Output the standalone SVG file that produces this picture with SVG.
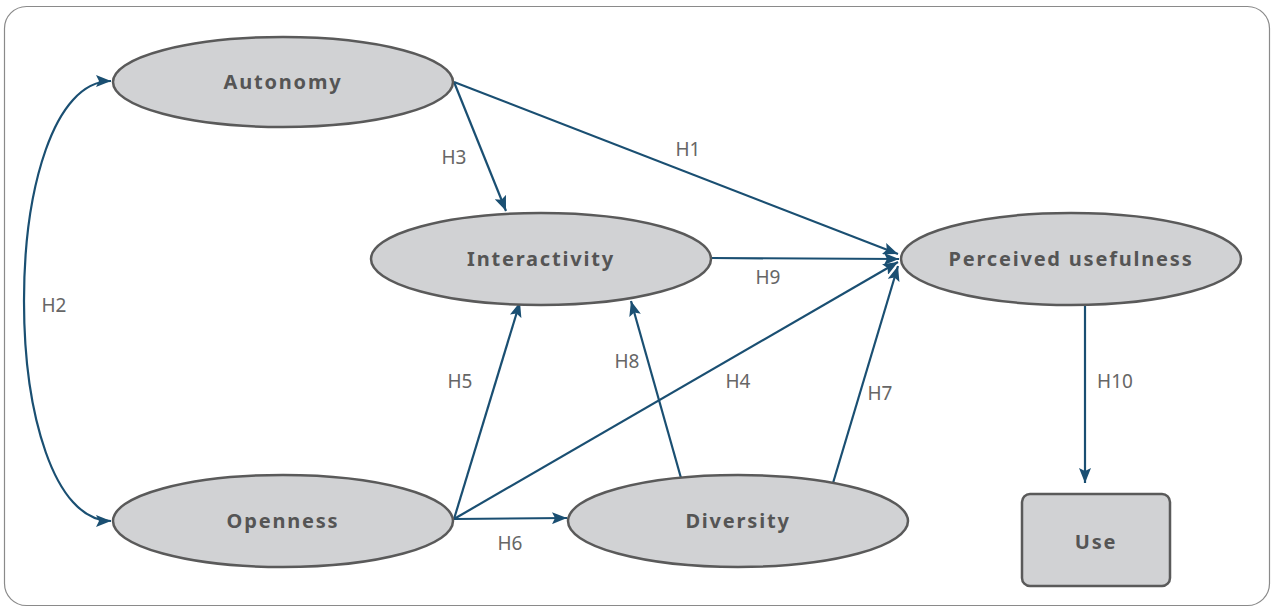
<svg xmlns="http://www.w3.org/2000/svg" width="1274" height="610" viewBox="0 0 1274 610">
<style>
.frame{fill:#fff;stroke:#8a8a8a;stroke-width:1.2}
.node{fill:#d1d2d4;stroke:#5a5a5a;stroke-width:2.5}
.nl{font-family:"Noto Sans","DejaVu Sans",sans-serif;font-weight:bold;font-size:20px;fill:#555;text-anchor:middle;letter-spacing:1.8px}
.edge{fill:none;stroke:#1a4f72;stroke-width:2.2}
.el{font-family:"Noto Sans","DejaVu Sans",sans-serif;font-size:19px;fill:#666;text-anchor:middle}
</style>
<defs>
<marker id="ah" markerUnits="userSpaceOnUse" markerWidth="16" markerHeight="12" refX="15" refY="6" orient="auto">
<path d="M0,0 L15,6 L0,12 L3,6 Z" fill="#1a4f72"/>
</marker>
</defs>
<rect class="frame" x="4.5" y="6.5" width="1265" height="599" rx="22"/>
<g id="connectors">
<path class="edge" d="M454,82 L898,254" marker-end="url(#ah)"/>
<path class="edge" d="M454,82 L506,211" marker-end="url(#ah)"/>
<path class="edge" d="M711,258 L899,259" marker-end="url(#ah)"/>
<path class="edge" d="M454,519 L520,302" marker-end="url(#ah)"/>
<path class="edge" d="M454,519 L898,262" marker-end="url(#ah)"/>
<path class="edge" d="M454,519 L567,518" marker-end="url(#ah)"/>
<path class="edge" d="M681,478 L631,301" marker-end="url(#ah)"/>
<path class="edge" d="M833,483 L898,266" marker-end="url(#ah)"/>
<path class="edge" d="M1085,305 L1085,483" marker-end="url(#ah)"/>
<path class="edge" d="M111,81 C-5,81 -5,521 111,521" marker-end="url(#ah)"/>
<path d="M111,81 L96,75 L99,81 L96,87 Z" fill="#1a4f72"/>
<text class="el" x="688" y="156">H1</text>
<text class="el" x="54" y="312">H2</text>
<text class="el" x="454" y="164">H3</text>
<text class="el" x="738" y="388">H4</text>
<text class="el" x="460" y="388">H5</text>
<text class="el" x="510" y="550">H6</text>
<text class="el" x="880" y="400">H7</text>
<text class="el" x="627" y="368">H8</text>
<text class="el" x="768" y="284">H9</text>
<text class="el" x="1115" y="388">H10</text>
</g>
<g id="autonomy"><ellipse class="node" cx="283" cy="82" rx="170" ry="45"/><text class="nl" x="283" y="89">Autonomy</text></g>
<g id="interactivity"><ellipse class="node" cx="541" cy="259" rx="170" ry="46"/><text class="nl" x="541" y="266">Interactivity</text></g>
<g id="perceived"><ellipse class="node" cx="1071" cy="259" rx="170" ry="46"/><text class="nl" x="1071" y="266">Perceived usefulness</text></g>
<g id="openness"><ellipse class="node" cx="283" cy="521" rx="170" ry="46"/><text class="nl" x="283" y="528">Openness</text></g>
<g id="diversity"><ellipse class="node" cx="738" cy="521" rx="170" ry="46"/><text class="nl" x="738" y="528">Diversity</text></g>
<g id="use"><rect class="node" x="1022" y="494" width="148" height="92" rx="8"/><text class="nl" x="1096" y="549">Use</text></g>
</svg>
